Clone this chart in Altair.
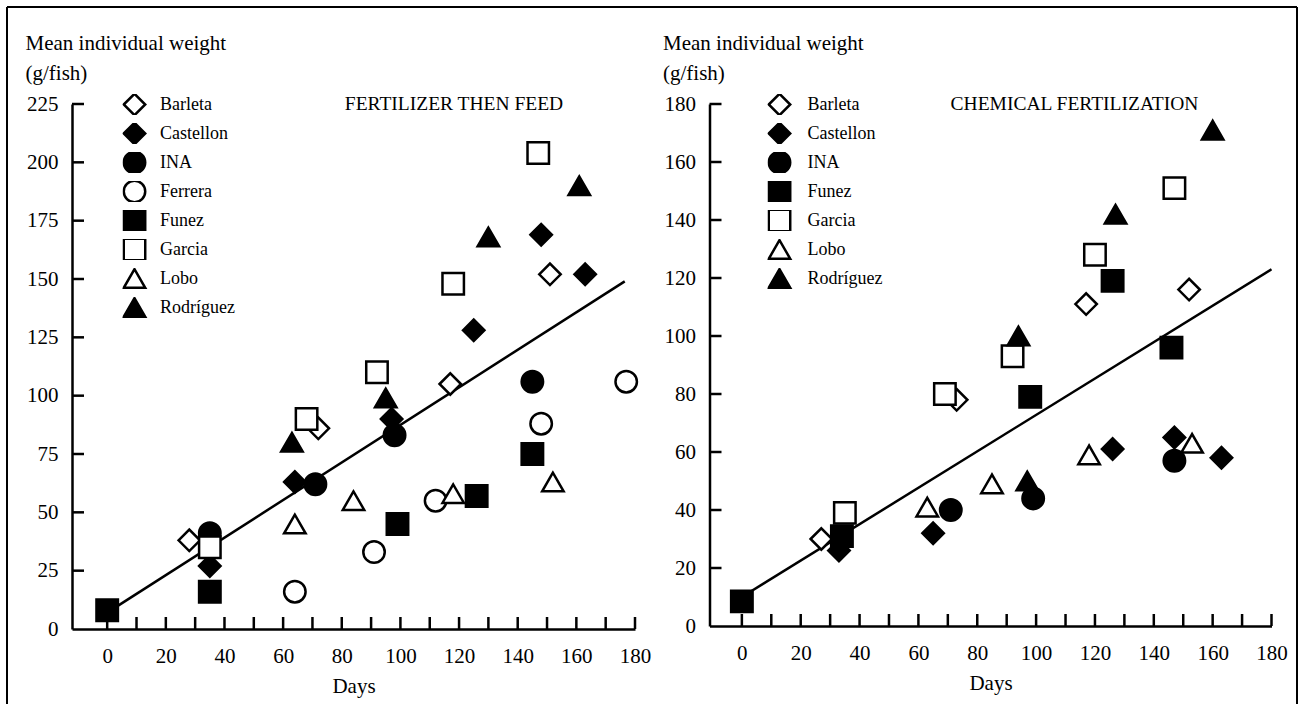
import altair as alt
import pandas as pd

SERIF = "Liberation Serif"

# Farms in legend order for each treatment
farms_feed = ["Barleta", "Castellon", "INA", "Ferrera", "Funez", "Garcia", "Lobo", "Rodríguez"]
farms_chem = ["Barleta", "Castellon", "INA", "Funez", "Garcia", "Lobo", "Rodríguez"]

# Symbol used for each farm (open = white fill, solid = black fill)
symbol_shape = {"Barleta": "diamond", "Castellon": "diamond", "INA": "circle", "Ferrera": "circle",
                "Funez": "square", "Garcia": "square", "Lobo": "triangle-up", "Rodríguez": "triangle-up"}
symbol_fill = {"Barleta": "white", "Castellon": "black", "INA": "black", "Ferrera": "white",
               "Funez": "black", "Garcia": "white", "Lobo": "white", "Rodríguez": "black"}
symbol_area = {"Barleta": 460, "Castellon": 460, "INA": 380, "Ferrera": 380,
               "Funez": 225, "Garcia": 225, "Lobo": 420, "Rodríguez": 420}

# Fertilizer then feed: (days, mean individual weight in g/fish)
feed_barleta = ([28, 72, 117, 151], [38, 86, 105, 152])
feed_castellon = ([35, 64, 97, 125, 148, 163], [27, 63, 90, 128, 169, 152])
feed_ina = ([35, 71, 98, 145], [41, 62, 83, 106])
feed_ferrera = ([64, 91, 112, 148, 177], [16, 33, 55, 88, 106])
feed_funez = ([0, 35, 99, 126, 145], [8, 16, 45, 57, 75])
feed_garcia = ([35, 68, 92, 118, 147], [35, 90, 110, 148, 204])
feed_lobo = ([64, 84, 118, 152], [45, 55, 58, 63])
feed_rodriguez = ([63, 95, 130, 161], [80, 99, 168, 190])
feed_trend = ([0, 176.5], [7, 149])

# Chemical fertilization: (days, mean individual weight in g/fish)
chem_barleta = ([27, 73, 117, 152], [30, 78, 111, 116])
chem_castellon = ([33, 65, 126, 147, 163], [26, 32, 61, 65, 58])
chem_ina = ([71, 99, 147], [40, 44, 57])
chem_funez = ([0, 34, 98, 126, 146], [8.5, 31, 79, 119, 96])
chem_garcia = ([35, 69, 92, 120, 147], [39, 80, 93, 128, 151])
chem_lobo = ([63, 85, 118, 153], [41, 49, 59, 63])
chem_rodriguez = ([94, 97, 127, 160], [100, 50, 142, 171])
chem_trend = ([0, 180], [10, 123])

day_ticks = list(range(0, 181, 10))
day_labels = list(range(0, 181, 20))
feed_weight_ticks = list(range(25, 226, 25))
feed_weight_labels = list(range(0, 226, 25))
chem_weight_ticks = list(range(20, 181, 20))
chem_weight_labels = list(range(0, 181, 20))

feed_series = {"Barleta": feed_barleta, "Castellon": feed_castellon, "INA": feed_ina,
               "Ferrera": feed_ferrera, "Funez": feed_funez, "Garcia": feed_garcia,
               "Lobo": feed_lobo, "Rodríguez": feed_rodriguez}
chem_series = {"Barleta": chem_barleta, "Castellon": chem_castellon, "INA": chem_ina,
               "Funez": chem_funez, "Garcia": chem_garcia, "Lobo": chem_lobo,
               "Rodríguez": chem_rodriguez}

INK = "black"


def panel(series, farms, trend, x_min, y_max, y_ticks, y_labels, width, height,
          title, title_x, legend_x, label_offset, frame_edges):
    obs = pd.DataFrame([{"farm": f, "days": d, "weight": w}
                        for f in farms for d, w in zip(*series[f])])

    x_axis = alt.Axis(values=day_labels, title="Days", titleFont=SERIF, titleFontSize=21,
                      titleFontWeight="normal", titleColor=INK, titleY=63,
                      titleBaseline="alphabetic", labelFont=SERIF, labelFontSize=21,
                      labelColor=INK, labelBaseline="alphabetic", labelPadding=33,
                      labelFlush=False, labelOverlap=False, ticks=False, tickSize=0,
                      grid=False, domainColor=INK, domainWidth=2.5)
    y_axis = alt.Axis(values=y_labels, title=["Mean individual weight", "(g/fish)"],
                      titleAngle=0, titleAlign="left", titleBaseline="top", titleX=-47,
                      titleY=-72, titleLineHeight=30, titleFont=SERIF, titleFontSize=21,
                      titleFontWeight="normal", titleColor=INK, labelFont=SERIF,
                      labelFontSize=21, labelColor=INK, labelPadding=14, labelFlush=False,
                      labelOverlap=False, ticks=False, tickSize=0, grid=False,
                      domainColor=INK, domainWidth=2.5)
    X = alt.X("days:Q", scale=alt.Scale(domain=[x_min, 180], nice=False, zero=False), axis=x_axis)
    Y = alt.Y("weight:Q", scale=alt.Scale(domain=[0, y_max], nice=False, zero=False), axis=y_axis)

    trend_line = alt.Chart(pd.DataFrame({"days": trend[0], "weight": trend[1]})).mark_line(
        color=INK, strokeWidth=2.5).encode(x=X, y=Y)

    # inward tick marks along both axes
    x_tick_marks = alt.Chart(pd.DataFrame({"days": day_ticks, "weight": 0})).mark_tick(
        orient="vertical", size=12, thickness=2.5, yOffset=-6, color=INK, opacity=1).encode(x=X, y=Y)
    y_tick_marks = alt.Chart(pd.DataFrame({"weight": y_ticks, "days": x_min})).mark_tick(
        orient="horizontal", size=12, thickness=2.5, xOffset=6, color=INK, opacity=1).encode(x=X, y=Y)

    legend = alt.Legend(title=None, orient="none", legendX=legend_x, legendY=-10,
                        labelFont=SERIF, labelFontSize=18, labelColor=INK,
                        labelOffset=label_offset, rowPadding=8, clipHeight=21, padding=0,
                        symbolStrokeWidth=2.5, symbolOpacity=1)
    points = alt.Chart(obs).mark_point(filled=True, strokeWidth=2.5, opacity=1).encode(
        x=X, y=Y,
        shape=alt.Shape("farm:N", scale=alt.Scale(domain=farms, range=[symbol_shape[f] for f in farms]),
                        legend=legend),
        fill=alt.Fill("farm:N", scale=alt.Scale(domain=farms, range=[symbol_fill[f] for f in farms]),
                      legend=legend),
        stroke=alt.Stroke("farm:N", scale=alt.Scale(domain=farms, range=[INK for f in farms]),
                          legend=legend),
        size=alt.Size("farm:N", scale=alt.Scale(domain=farms, range=[symbol_area[f] for f in farms]),
                      legend=legend),
    )

    heading = alt.Chart(pd.DataFrame({"t": [title]})).mark_text(
        font=SERIF, fontSize=19.5, color=INK, align="center", baseline="middle").encode(
        text="t:N", x=alt.value(title_x), y=alt.value(-0.5))

    layers = list(frame_edges) + [trend_line, x_tick_marks, y_tick_marks, points, heading]
    return alt.layer(*layers).properties(width=width, height=height)


edge = pd.DataFrame({"k": [0]})
left_edge = alt.Chart(edge).mark_rule(color=INK, strokeWidth=2).encode(
    x=alt.value(-65), y=alt.value(-97), y2=alt.value(600))
top_edge = alt.Chart(edge).mark_rule(color=INK, strokeWidth=2).encode(
    x=alt.value(-65), x2=alt.value(1225), y=alt.value(-97))
right_edge = alt.Chart(edge).mark_rule(color=INK, strokeWidth=2).encode(
    x=alt.value(587.5), y=alt.value(-97), y2=alt.value(600))

left = panel(feed_series, farms_feed, feed_trend, -12, 225, feed_weight_ticks, feed_weight_labels,
             563, 525, "FERTILIZER THEN FEED", 382, 50.5, 13.5, [left_edge, top_edge])
right = panel(chem_series, farms_chem, chem_trend, -11, 180, chem_weight_ticks, chem_weight_labels,
              562, 522, "CHEMICAL FERTILIZATION", 365, 58, 16, [right_edge])

chart = alt.hconcat(left, right, spacing=74.5, bounds="flush").resolve_scale(
    x="independent", y="independent", shape="independent", fill="independent",
    stroke="independent", size="independent"
).properties(
    padding={"left": 6, "top": 6, "right": 0, "bottom": 0},
    background="white",
).configure(font=SERIF).configure_view(stroke=None)

chart.save("out.html", embed_options={"renderer": "svg", "actions": False})
